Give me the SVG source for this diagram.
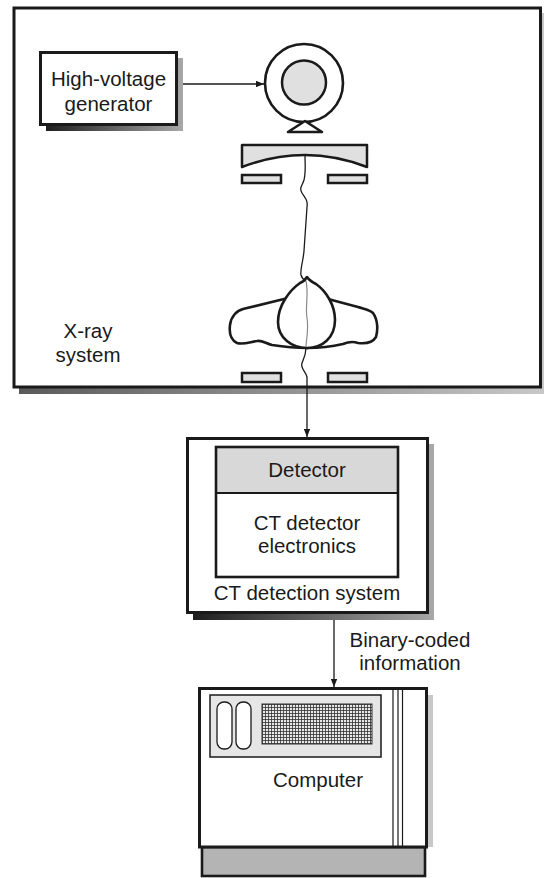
<svg xmlns="http://www.w3.org/2000/svg" width="544" height="878" viewBox="0 0 544 878">
  <defs>
    <style>
      .box { fill: #fff; stroke: #1a1a1a; stroke-width: 3; }
      .part { fill: #e0e0e0; stroke: #1a1a1a; stroke-width: 2.5; }
      .thick { fill: none; stroke: #1a1a1a; stroke-width: 2.6; stroke-linejoin: round; }
      .body { fill: #fff; stroke: #1a1a1a; stroke-width: 2.6; stroke-linejoin: round; }
      .wire { fill: none; stroke: #1a1a1a; stroke-width: 1.3; }
      .beam-in { fill: none; stroke: #8a8a8a; stroke-width: 1.2; }
      .lbl { font-family: "Liberation Sans", Arial, sans-serif; font-size: 20.5px; fill: #1a1a1a; text-anchor: middle; }
      .thin { stroke: #1a1a1a; stroke-width: 1.2; }
    </style>
    <linearGradient id="shadeDark" x1="0" y1="0" x2="1" y2="0">
      <stop offset="0" stop-color="#1e1e1e"/>
      <stop offset="1" stop-color="#a8a8a8"/>
    </linearGradient>
    <linearGradient id="shadeFrame" x1="0" y1="0" x2="1" y2="0">
      <stop offset="0" stop-color="#5a5a5a"/>
      <stop offset="1" stop-color="#c8c8c8"/>
    </linearGradient>
    <pattern id="mesh" width="3" height="3" patternUnits="userSpaceOnUse" x="262" y="704">
      <rect width="3" height="3" fill="#e8e8e8"/>
      <path d="M0 0.4H3M0.4 0V3" stroke="#333" stroke-width="0.9"/>
    </pattern>
    <marker id="arrow" viewBox="0 0 10 8" refX="10" refY="4" markerWidth="8" markerHeight="6.4" markerUnits="userSpaceOnUse" orient="auto">
      <path d="M0 0L10 4L0 8Z" fill="#1a1a1a"/>
    </marker>
  </defs>

  <rect width="544" height="878" fill="#fff"/>

  <!-- X-ray system enclosure -->
  <g id="xray-system">
    <rect x="19" y="13" width="527" height="381" fill="url(#shadeFrame)"/>
    <rect x="14" y="8" width="526.5" height="379" class="box"/>
    <text class="lbl" x="88" y="338">X-ray</text>
    <text class="lbl" x="88" y="362">system</text>
  </g>

  <!-- High-voltage generator -->
  <g id="hv-generator">
    <rect x="46" y="58" width="137" height="73" fill="url(#shadeDark)"/>
    <rect x="40.5" y="52.5" width="136" height="72" class="box"/>
    <text class="lbl" x="108.5" y="86">High-voltage</text>
    <text class="lbl" x="108.5" y="111">generator</text>
  </g>

  <!-- X-ray tube on its stand -->
  <g id="xray-tube">
    <circle cx="304" cy="83" r="39" fill="#fff" stroke="#1a1a1a" stroke-width="2.6"/>
    <circle cx="304" cy="82.5" r="22" class="part" stroke-width="2.6"/>
    <path d="M305 121L288 132H322Z" class="body"/>
  </g>

  <!-- Curved filter -->
  <g id="filter">
    <path d="M242 145H367V167Q305 143 242 167Z" class="part" stroke-linejoin="round"/>
  </g>

  <!-- Pre-patient collimator -->
  <g id="collimator-upper">
    <rect x="242" y="175" width="39" height="8" class="part"/>
    <rect x="328" y="175" width="39" height="8" class="part"/>
  </g>

  <!-- Patient cross-section -->
  <g id="patient">
    <path class="body" d="M284 299 L243 309 C236 311 231 317 230 325 C229 333 231 340 237 343 C243 345 250 342 257 341 C262 340 265 343 272 345 C285 347 296 348 307 348 C318 348 330 347 343 344 C348 342 352 341 358 343 C366 344 373 342 376 337 C378 330 378 320 373 313 C369 309 364 309 358 307 L328 299 Z"/>
    <path class="body" d="M300 283 C290 290 278 305 278 322 C278 338 292 348 307 348 C322 348 335 338 335 320 C335 305 326 291 316 284 C312 282 309 280 307 277 C305 280 303 282 300 283 Z"/>
  </g>

  <!-- Post-patient collimator -->
  <g id="collimator-lower">
    <rect x="242" y="373" width="39" height="9" class="part"/>
    <rect x="328" y="373" width="39" height="9" class="part"/>
  </g>

  <!-- CT detection system -->
  <g id="detection-system">
    <rect x="193" y="444" width="241" height="176" fill="url(#shadeDark)"/>
    <rect x="187.5" y="438.5" width="240" height="174" class="box"/>
    <rect x="216" y="447" width="182" height="46" fill="#d8d8d8"/>
    <rect x="216" y="447" width="182" height="130" fill="none" stroke="#1a1a1a" stroke-width="2.6"/>
    <line x1="216" y1="493" x2="398" y2="493" stroke="#1a1a1a" stroke-width="2.2"/>
    <text class="lbl" x="307" y="477">Detector</text>
    <text class="lbl" x="307" y="530">CT detector</text>
    <text class="lbl" x="307" y="553">electronics</text>
    <text class="lbl" x="307" y="600">CT detection system</text>
  </g>

  <!-- Computer -->
  <g id="computer">
    <rect x="427" y="695" width="6" height="152" fill="#c8c8c8"/>
    <rect x="202" y="847" width="223" height="29" fill="#b4b4b4" stroke="#1a1a1a" stroke-width="2.6"/>
    <rect x="199.5" y="688.5" width="227" height="158.5" class="box"/>
    <line x1="393" y1="689" x2="393" y2="846" class="thin"/>
    <line x1="398" y1="689" x2="398" y2="846" class="thin"/>
    <line x1="402.5" y1="689" x2="402.5" y2="846" class="thin"/>
    <rect x="210" y="695" width="171" height="62" fill="#e6e6e6" stroke="#1a1a1a" stroke-width="1.5"/>
    <rect x="217" y="702" width="15" height="47" rx="7" fill="#fff" stroke="#1a1a1a" stroke-width="1.3"/>
    <rect x="236" y="702" width="15" height="47" rx="7" fill="#fff" stroke="#1a1a1a" stroke-width="1.3"/>
    <rect x="262" y="704" width="110" height="40" fill="url(#mesh)" stroke="#333" stroke-width="1"/>
    <text class="lbl" x="318" y="787">Computer</text>
  </g>

  <!-- Connectors: power feed, X-ray beam path and data link -->
  <g id="connectors">
    <line x1="183" y1="84" x2="264" y2="84" class="wire" marker-end="url(#arrow)"/>
    <path class="wire" d="M305 155 C305 165 306 172 304 180 C302 186 299 188 302 193 C305 198 308 200 307 207 C306 221 305 236 304 251 C303 262 300 270 301 275 C302 279 304 280 306 281"/>
    <path class="beam-in" d="M306 281 C309 295 305 305 307 318 C309 330 306 340 306 347"/>
    <path class="wire" d="M306 347 C306 355 304 358 302 363 C300 368 306 372 307 377 L307 437" marker-end="url(#arrow)"/>
    <line x1="334" y1="620" x2="334" y2="687" class="wire" marker-end="url(#arrow)"/>
    <text class="lbl" x="410" y="647">Binary-coded</text>
    <text class="lbl" x="410" y="670">information</text>
  </g>
</svg>
